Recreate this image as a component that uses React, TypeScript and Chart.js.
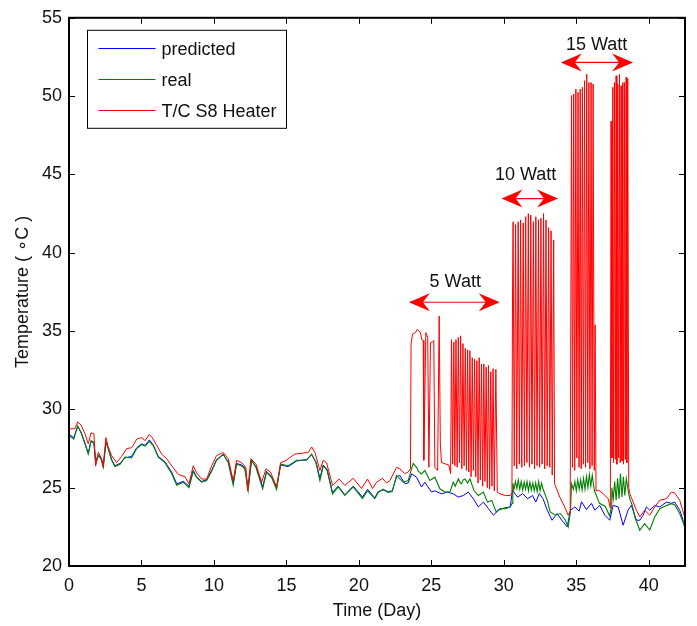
import React, { useEffect, useRef } from "react";
import { Chart, registerables } from "chart.js";

Chart.register(...registerables);

// ---------- axes ----------
const xTicks = [0, 5, 10, 15, 20, 25, 30, 35, 40];
const yTicks = [20, 25, 30, 35, 40, 45, 50, 55];
const xMin = 0;
const xMax = 42.5;
const yMin = 20;
const yMax = 55;
const xTitle = "Time (Day)";
const yTitle = "Temperature ( \u2218C )";

// ---------- series ----------
const seriesNames = ["predicted", "real", "T/C S8 Heater"];
const seriesColors = ["#0000ff", "#008000", "#ff0000"];

const predictedX = [
  0, 0.33, 0.6, 0.83, 1.1, 1.33, 1.52, 1.72, 1.84, 2.02, 2.2, 2.37, 2.55, 2.7, 2.94, 3.17, 3.52, 3.86, 4.32, 4.67,
  5.01, 5.25, 5.54, 5.8, 6.16, 6.62, 7.08, 7.43, 7.89, 8.28, 8.57, 8.8, 9.15, 9.5, 9.84, 10.18, 10.64, 10.99, 11.33,
  11.56, 11.9, 12.13, 12.36, 12.59, 12.9, 13.36, 13.63, 13.98, 14.32, 14.6, 15.13, 15.7, 16.39, 16.74, 17.04, 17.31,
  17.54, 17.81, 18.18, 18.57, 19.03, 19.61, 20.25, 20.6, 21.1, 21.33, 21.68, 22.02, 22.3,
  22.6, 22.83, 23.18, 23.4, 23.64, 23.98, 24.32, 24.55, 25.01, 25.24, 25.7, 26.1, 26.51, 26.86, 27.2, 27.55, 27.9,
  28.24, 28.59, 28.94, 29.28, 29.63, 30.0, 30.44, 30.6, 30.95, 31.3, 31.64, 31.99, 32.2, 32.45, 32.7, 33.0, 33.33,
  33.67, 34.0, 34.37, 34.6, 34.9, 35.2, 35.36, 35.7, 36.05, 36.28, 36.62, 36.97, 37.31, 37.54, 37.89, 38.23, 38.57,
  38.8, 39.15, 39.38, 39.61, 39.84, 40.07, 40.41, 40.76, 41.22, 41.56, 41.79, 42.14, 42.37, 42.48,
];
const predictedY = [
  28.4, 28.2, 28.9, 28.55, 27.85, 27.2, 27.95, 27.85, 26.7, 27.1, 26.9, 26.45, 27.95, 27.55, 26.8, 26.4, 26.55, 26.9,
  27.0, 27.55, 27.8, 27.7, 28.05, 27.75, 27.0, 26.65, 26.0, 25.25, 25.4, 25.1, 26.1, 25.7, 25.4, 25.5, 26.1, 26.8,
  27.1, 26.65, 25.3, 26.55, 26.45, 26.3, 25.0, 26.7, 26.35, 25.05, 26.05, 25.7, 25.0, 26.45, 26.35, 26.7, 26.8, 27.1,
  26.65, 25.6, 26.45, 26.15, 24.7, 25.1, 24.55, 25.1, 24.4, 24.9, 24.35, 24.75, 24.85, 24.75, 24.8,
  25.7, 25.78, 25.25, 25.3, 25.88, 25.67, 25.04, 25.35, 24.72, 24.8, 24.61, 24.72, 24.61, 24.4, 24.5, 24.72, 24.29,
  23.77, 24.08, 23.66, 23.24, 23.56, 23.7, 23.77, 24.83, 24.4, 24.62, 24.3, 24.5, 24.08, 24.62, 24.3, 23.56, 22.92,
  23.35, 22.92, 22.5, 23.56, 23.77, 23.5, 24.1, 23.6, 24.0, 23.56, 23.87, 23.24, 22.92, 23.87, 23.77, 22.6, 23.56,
  23.87, 22.92, 22.92, 23.24, 23.77, 23.56, 23.87, 23.77, 24.08, 24.0, 24.08, 23.56, 22.92, 22.7,
];

const realX = [
  0, 0.33, 0.6, 0.83, 1.1, 1.33, 1.52, 1.72, 1.84, 2.02, 2.2, 2.37, 2.55, 2.7, 2.94, 3.17, 3.52, 3.86, 4.32, 4.67,
  5.01, 5.25, 5.54, 5.8, 6.16, 6.62, 7.08, 7.43, 7.89, 8.28, 8.57, 8.8, 9.15, 9.5, 9.84, 10.18, 10.64, 10.99, 11.33,
  11.56, 11.9, 12.13, 12.36, 12.59, 12.9, 13.36, 13.63, 13.98, 14.32, 14.6, 15.13, 15.7, 16.39, 16.74, 17.04, 17.31,
  17.54, 17.81, 18.18, 18.57, 19.03, 19.61, 20.25, 20.6, 21.1, 21.33, 21.68, 22.02, 22.3,
  22.6, 23.06, 23.4, 23.75, 23.98, 24.1, 24.32, 24.55, 24.9, 25.24, 25.59, 25.93, 26.28, 26.51, 26.65, 26.86, 27.0,
  27.09, 27.2, 27.32, 27.5, 27.66, 27.94, 28.24, 28.59, 28.87, 29.17, 29.47, 29.75, 30.1, 30.44, 30.58, 30.62,
  30.7, 30.8, 30.9, 31.0, 31.1, 31.2, 31.3, 31.4, 31.5, 31.6, 31.7, 31.8, 31.9, 32.0, 32.1, 32.2, 32.3, 32.4, 32.5,
  32.6, 32.71, 33.0, 33.2, 33.56, 33.9, 34.25, 34.44, 34.6, 34.67,
  34.8, 34.9, 35.0, 35.1, 35.2, 35.3, 35.4, 35.5, 35.6, 35.7, 35.8, 35.9, 36.0, 36.1, 36.25, 36.6, 37.0, 37.3, 37.4,
  37.45, 37.55, 37.65, 37.75, 37.85, 37.95, 38.05, 38.15, 38.25, 38.35, 38.45, 38.6, 38.69, 38.85, 39.04, 39.38,
  39.72, 40.07, 40.41, 40.76, 41.22, 41.56, 41.8, 42.14, 42.48,
];
const realY = [
  28.32, 28.1, 28.95, 28.5, 27.8, 27.15, 28.0, 27.9, 26.5, 27.05, 26.85, 26.3, 27.9, 27.5, 26.75, 26.35, 26.5, 26.95,
  26.9, 27.5, 27.75, 27.65, 27.95, 27.7, 26.95, 26.6, 25.9, 25.15, 25.35, 25.0, 26.05, 25.65, 25.35, 25.45, 26.05,
  26.75, 27.15, 26.6, 25.15, 26.5, 26.4, 26.2, 24.8, 26.75, 26.3, 24.93, 26.0, 25.65, 24.88, 26.5, 26.4, 26.75, 26.75,
  27.15, 26.6, 25.45, 26.4, 26.1, 24.6, 25.05, 24.5, 25.05, 24.3, 24.8, 24.3, 24.7, 24.9, 24.7, 24.75,
  25.78, 25.35, 25.45, 26.55, 26.3, 26.05, 25.88, 26.1, 25.46, 25.67, 24.93, 24.72, 24.72, 25.35, 25.1, 25.56, 25.3,
  25.25, 25.5, 25.56, 25.3, 25.56, 24.82, 24.5, 24.72, 24.08, 24.19, 23.45, 23.66, 23.66, 23.77, 24.0, 25.3,
  24.9, 25.4, 24.95, 25.5, 24.9, 25.4, 24.85, 25.35, 24.9, 25.4, 24.8, 25.35, 24.85, 25.3, 24.8, 25.3, 24.75, 25.4,
  24.8, 25.3, 24.9, 24.19, 23.45, 23.24, 23.35, 22.92, 22.5, 23.5, 25.25,
  24.9, 25.4, 24.8, 25.5, 24.9, 25.5, 24.85, 25.6, 24.9, 25.7, 25.0, 25.85, 25.1, 25.8, 24.8, 24.0, 23.8, 23.2, 23.7,
  25.0, 24.3, 25.4, 24.2, 25.6, 24.3, 25.9, 24.4, 25.7, 24.5, 25.6, 24.7, 24.3, 23.9, 23.13, 22.28,
  22.7, 22.3, 23.13, 23.66, 23.87, 23.98, 23.9, 23.34, 22.5,
];

const heaterX = [
  0, 0.41, 0.6, 0.83, 1.1, 1.33, 1.52, 1.72, 1.84, 2.02, 2.25, 2.35, 2.55, 2.7, 2.94, 3.29, 3.63, 3.98, 4.32, 4.67,
  5.01, 5.25, 5.54, 5.74, 6.05, 6.39, 6.74, 7.08, 7.54, 8.0, 8.28, 8.57, 8.8, 9.15, 9.5, 9.84, 10.18, 10.64, 10.99,
  11.33, 11.56, 11.9, 12.2, 12.32, 12.55, 12.9, 13.29, 13.59, 13.9, 14.32, 14.6, 14.9, 15.59, 16.06, 16.51, 16.74,
  16.97, 17.31, 17.54, 17.77, 18.18, 18.64, 19.03, 19.61, 20.18, 20.6, 20.94, 21.22, 21.63, 21.9, 22.14, 22.6, 22.83,
  23.17, 23.4, 23.56,
  // 5 Watt
  23.6, 23.7, 23.9, 24.02, 24.25, 24.34, 24.44, 24.48, 24.62, 24.75, 24.83, 24.94, 25.06, 25.17, 25.24, 25.43, 25.54,
  25.62, 25.7, 26.2, 26.33,
  26.39, 26.47, 26.55, 26.62, 26.7, 26.78, 26.86, 26.94, 27.02, 27.1, 27.18, 27.26, 27.34, 27.42, 27.5, 27.58, 27.66,
  27.74, 27.82, 27.9, 27.98, 28.06, 28.14, 28.22, 28.3, 28.38, 28.46, 28.54, 28.62, 28.7, 28.78, 28.86, 28.94, 29.02,
  29.1, 29.18, 29.26, 29.34, 29.45, 29.55, 29.75, 30.1, 30.45, 30.56,
  // 10 Watt
  30.6, 30.64, 30.72, 30.81, 30.89, 30.99, 31.07, 31.16, 31.24, 31.34, 31.42, 31.51, 31.59, 31.69, 31.77, 31.86,
  31.94, 32.04, 32.12, 32.21, 32.29, 32.39, 32.47, 32.56, 32.64, 32.74, 32.82, 32.91, 32.99, 33.09, 33.17, 33.26,
  33.34, 33.44, 33.5, 33.86, 34.2, 34.44, 34.58,
  // 15 Watt
  34.67, 34.74, 34.82, 34.89, 34.97, 35.04, 35.12, 35.19, 35.27, 35.34, 35.42, 35.49, 35.57, 35.64, 35.72, 35.79,
  35.87, 35.94, 36.02, 36.09, 36.16, 36.24, 36.3, 36.36, 36.55, 36.85, 37.2, 37.35,
  37.4, 37.46, 37.52, 37.57, 37.63, 37.69, 37.75, 37.8, 37.86, 37.92, 37.98, 38.03, 38.09, 38.15, 38.21, 38.26, 38.32,
  38.38, 38.44, 38.49, 38.55, 38.62, 38.69, 39.15, 39.38, 39.72, 40.07, 40.41, 40.76, 41.22, 41.56, 41.8, 42.14, 42.45,
];
const heaterY = [
  28.75, 28.77, 29.2, 29.0, 28.45, 27.8, 28.5, 28.45, 26.4, 27.26, 26.85, 26.3, 28.2, 27.6, 27.05, 26.6, 27.0, 27.5,
  27.55, 28.1, 28.2, 28.0, 28.4, 28.2, 27.7, 27.15, 26.85, 26.4, 25.85, 25.7, 25.25, 26.4, 25.95, 25.55, 25.55, 26.4,
  27.05, 27.25, 26.85, 25.45, 26.75, 26.6, 26.3, 24.8, 26.85, 26.5, 25.35, 26.2, 26.0, 25.05, 26.6, 26.7, 27.15, 27.2,
  27.25, 27.6, 27.25, 26.1, 26.75, 26.6, 25.15, 25.55, 25.15, 25.6, 24.95, 25.55, 24.95, 25.35, 25.6, 25.3, 25.45,
  26.3, 26.2, 25.9, 26.0, 26.2,
  // 5 Watt
  34.15, 34.8, 34.9, 35.1, 34.9, 34.45, 34.4, 26.75, 34.9, 34.6, 26.3, 34.25, 34.3, 34.4, 26.3, 26.1, 35.95, 27.8,
  26.6, 26.45, 25.9,
  34.45, 26.5, 34.3, 26.4, 34.45, 26.3, 34.6, 26.6, 34.7, 26.2, 34.2, 26.4, 33.9, 26.1, 33.8, 26.0, 33.75, 25.7, 33.3,
  26.1, 33.2, 25.7, 33.1, 25.3, 33.3, 25.5, 32.9, 25.1, 32.9, 25.4, 32.7, 25.0, 32.8, 24.9, 32.4, 25.1, 32.6, 24.8,
  32.55, 24.7, 24.6, 24.5, 24.5, 24.7,
  // 10 Watt
  37.5, 41.98, 26.4, 41.8, 26.2, 41.98, 26.5, 42.1, 26.3, 41.9, 26.4, 42.3, 26.6, 42.5, 26.3, 42.4, 26.5, 41.98, 26.2,
  42.3, 26.4, 42.1, 26.3, 42.2, 26.5, 42.5, 26.2, 42.1, 26.4, 41.6, 26.3, 41.4, 25.8, 40.82, 25.25, 24.4, 23.77, 23.24,
  23.5,
  // 15 Watt
  50.03, 26.3, 50.13, 26.1, 50.45, 26.9, 50.24, 26.3, 50.45, 26.2, 50.56, 26.5, 50.98, 26.3, 51.4, 26.6, 50.87, 26.2,
  50.87, 26.4, 50.77, 26.1, 35.4, 24.8, 24.83, 24.62, 24.3, 23.7,
  48.4, 26.9, 50.56, 26.6, 50.87, 26.8, 51.3, 26.5, 50.77, 26.9, 51.4, 26.6, 50.66, 26.7, 50.87, 26.5, 50.87, 26.8,
  51.2, 26.6, 51.1, 25.0, 24.62, 23.56, 23.13, 23.56, 23.24, 23.77, 24.19, 24.3, 24.72, 24.65, 24.19, 23.2,
];

// ---------- annotations ----------
const noteLabels = ["5 Watt", "10 Watt", "15 Watt"];
const noteArrowFrom = [23.45, 29.84, 33.93];
const noteArrowTo = [29.72, 33.74, 38.92];
const noteArrowLevel = [36.84, 43.46, 52.15];
const noteTextX = [26.65, 31.5, 36.4];
const noteTextLevel = [38.1, 44.95, 53.27];

const FONT = "'Liberation Sans', Arial, 'DejaVu Sans', sans-serif";

const framePlugin = {
  id: "frame",
  afterDatasetsDraw(chart: any) {
    const { ctx, chartArea, scales } = chart;
    const { left, right, top, bottom } = chartArea;
    ctx.save();
    ctx.strokeStyle = "#000";
    ctx.lineWidth = 1;
    ctx.beginPath();
    for (const t of scales.x.ticks) {
      const px = Math.round(scales.x.getPixelForValue(t.value)) + 0.5;
      ctx.moveTo(px, bottom);
      ctx.lineTo(px, bottom - 6);
      ctx.moveTo(px, top);
      ctx.lineTo(px, top + 6);
    }
    for (const t of scales.y.ticks) {
      const py = Math.round(scales.y.getPixelForValue(t.value)) + 0.5;
      ctx.moveTo(left, py);
      ctx.lineTo(left + 6, py);
      ctx.moveTo(right, py);
      ctx.lineTo(right - 6, py);
    }
    ctx.stroke();
    ctx.lineWidth = 2;
    ctx.strokeRect(left, top, right - left, bottom - top);
    ctx.restore();
  },
};

const notePlugin = {
  id: "notes",
  afterDatasetsDraw(chart: any) {
    const { ctx, scales } = chart;
    ctx.save();
    const color = "#ff0000";
    for (let i = 0; i < noteLabels.length; i++) {
      const x0 = scales.x.getPixelForValue(noteArrowFrom[i]);
      const x1 = scales.x.getPixelForValue(noteArrowTo[i]);
      const y = scales.y.getPixelForValue(noteArrowLevel[i]);
      ctx.strokeStyle = color;
      ctx.lineWidth = 1.2;
      ctx.beginPath();
      ctx.moveTo(x0 + 10, y);
      ctx.lineTo(x1 - 10, y);
      ctx.stroke();
      ctx.fillStyle = color;
      const L = 21, H = 9, N = 14;
      ctx.beginPath();
      ctx.moveTo(x0, y);
      ctx.lineTo(x0 + L, y - H);
      ctx.lineTo(x0 + N, y);
      ctx.lineTo(x0 + L, y + H);
      ctx.closePath();
      ctx.fill();
      ctx.beginPath();
      ctx.moveTo(x1, y);
      ctx.lineTo(x1 - L, y - H);
      ctx.lineTo(x1 - N, y);
      ctx.lineTo(x1 - L, y + H);
      ctx.closePath();
      ctx.fill();
      ctx.fillStyle = "#111";
      ctx.font = `18px ${FONT}`;
      ctx.textAlign = "center";
      ctx.textBaseline = "middle";
      ctx.fillText(noteLabels[i], scales.x.getPixelForValue(noteTextX[i]), scales.y.getPixelForValue(noteTextLevel[i]));
    }
    ctx.restore();
  },
};

const legendPlugin = {
  id: "boxLegend",
  afterDatasetsDraw(chart: any) {
    const { ctx, chartArea } = chart;
    const bx = chartArea.left + 18.5;
    const by = chartArea.top + 12.5;
    const bw = 199;
    const bh = 98;
    ctx.save();
    ctx.fillStyle = "#fff";
    ctx.fillRect(bx, by, bw, bh);
    ctx.strokeStyle = "#000";
    ctx.lineWidth = 1;
    ctx.strokeRect(bx, by, bw, bh);
    const rows = [17.5, 49, 80];
    ctx.font = `18px ${FONT}`;
    ctx.textAlign = "left";
    ctx.textBaseline = "middle";
    for (let i = 0; i < seriesNames.length; i++) {
      const ly = Math.round(by + rows[i]) + 0.5;
      ctx.strokeStyle = seriesColors[i];
      ctx.beginPath();
      ctx.moveTo(bx + 11, ly);
      ctx.lineTo(bx + 68, ly);
      ctx.stroke();
      ctx.fillStyle = "#111";
      ctx.fillText(seriesNames[i], bx + 74, ly + 1.5);
    }
    ctx.restore();
  },
};

export default function App() {
  const ref = useRef<HTMLCanvasElement | null>(null);

  useEffect(() => {
    const canvas = ref.current;
    if (!canvas) return;
    const pts = (xs: number[], ys: number[]) => xs.map((x, i) => ({ x, y: ys[i] }));
    const tickFont = { family: FONT, size: 18 };
    const chart = new Chart(canvas, {
      type: "line",
      data: {
        datasets: [
          {
            label: seriesNames[0],
            data: pts(predictedX, predictedY),
            borderColor: seriesColors[0],
            borderWidth: 1,
            pointRadius: 0,
            tension: 0,
            order: 3,
          },
          {
            label: seriesNames[1],
            data: pts(realX, realY),
            borderColor: seriesColors[1],
            borderWidth: 1.1,
            pointRadius: 0,
            tension: 0,
            order: 2,
          },
          {
            label: seriesNames[2],
            data: pts(heaterX, heaterY),
            borderColor: seriesColors[2],
            borderWidth: 1,
            pointRadius: 0,
            tension: 0,
            order: 1,
          },
        ],
      },
      options: {
        animation: false,
        responsive: false,
        devicePixelRatio: 1,
        layout: { padding: { top: 14, right: 12, left: 0, bottom: 0 } },
        plugins: { legend: { display: false }, tooltip: { enabled: false } },
        scales: {
          x: {
            type: "linear",
            min: xMin,
            max: xMax,
            grid: { display: false, drawTicks: false },
            border: { display: false },
            ticks: { color: "#111", font: tickFont, padding: 9, maxRotation: 0 },
            title: { display: true, text: xTitle, color: "#111", font: tickFont, padding: { top: 0, bottom: 4 } },
            afterBuildTicks: (s: any) => {
              s.ticks = xTicks.map((v) => ({ value: v }));
            },
            afterFit: (s: any) => {
              s.height = 60;
            },
          },
          y: {
            type: "linear",
            min: yMin,
            max: yMax,
            grid: { display: false, drawTicks: false },
            border: { display: false },
            ticks: { color: "#111", font: tickFont, padding: 7 },
            title: { display: true, text: yTitle, color: "#111", font: tickFont, padding: { top: 12, bottom: 0 } },
            afterBuildTicks: (s: any) => {
              s.ticks = yTicks.map((v) => ({ value: v }));
            },
            afterFit: (s: any) => {
              s.width = 69;
            },
          },
        },
      },
      plugins: [framePlugin, legendPlugin, notePlugin],
    } as any);
    return () => chart.destroy();
  }, []);

  return (
    <div style={{ position: "absolute", left: 0, top: 0, width: 697, height: 626, background: "#fff" }}>
      <canvas ref={ref} width={697} height={626} style={{ display: "block", width: 697, height: 626 }} />
    </div>
  );
}
